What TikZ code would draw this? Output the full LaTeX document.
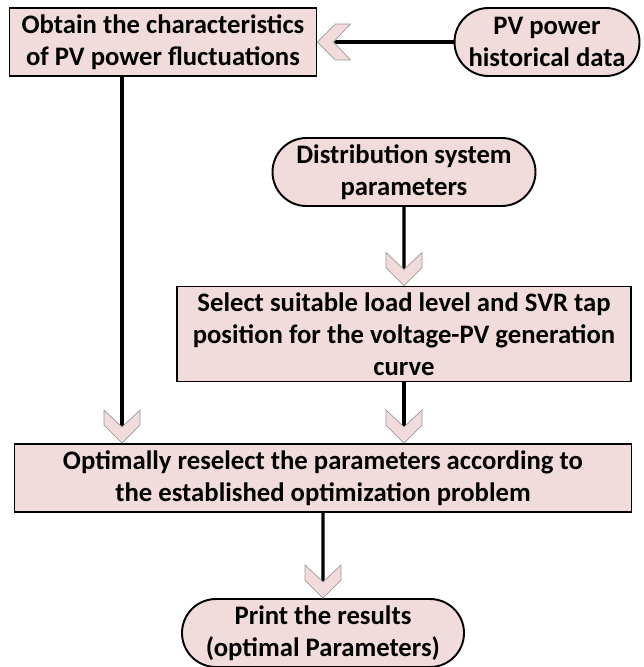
\documentclass[tikz,border=0pt]{standalone}
\usepackage{fontspec}
\setmainfont{Carlito}
\usetikzlibrary{shapes.misc}
\definecolor{boxpink}{HTML}{F2DCDB}
\definecolor{chevgray}{HTML}{9A9A9A}
\tikzstyle{arrow} = [line width=1.9pt, shorten >=0.3cm]
\tikzstyle{box} = [draw, line width=1.1pt, fill=boxpink, align=center, inner sep=0pt, minimum height=1.36cm, font=\fontsize{15.2}{18.2}\selectfont\bfseries]
\tikzstyle{term} = [box, rounded rectangle]
\tikzset{chevron/.pic={
    \filldraw [fill=boxpink, draw=chevgray, line width=0.4pt]
      (0,0) -- (-0.36,0.36) -- (-0.66,0.36) -- (-0.32,0) -- (-0.66,-0.36) -- (-0.36,-0.36) -- cycle;
}}

\begin{document}
\begin{tikzpicture}
    \useasboundingbox (0,0) rectangle (12.88,-13.34);
    \node (obtain) [box, minimum width=6.14cm] at (3.26,-0.84) {Obtain the characteristics\\of PV power fluctuations};
    \node (hist)   [term, minimum width=3.7cm, node distance=7.68cm, right of=obtain] {PV power\\historical data};
    \node (optim)  [box, minimum width=12.34cm, node distance=8.72cm, below of=obtain, xshift=3.2cm] {Optimally reselect the parameters according to\\the established optimization problem};
    \node (select) [box, minimum width=9.08cm, minimum height=1.9cm, node distance=2.88cm, above of=optim, xshift=1.62cm] {Select suitable load level and SVR tap\\position for the voltage-PV generation\\curve};
    \node (dist)   [term, minimum width=5.26cm, node distance=3.24cm, above of=select] {Distribution system\\parameters};
    \node (print)  [term, minimum width=5.64cm, node distance=3.1cm, below of=optim] {Print the results\\(optimal Parameters)};
    \draw [arrow] (hist) -- (obtain) pic[pos=1, sloped, allow upside down] {chevron};
    \draw [arrow] ([xshift=-0.82cm]obtain.south) -- ([xshift=-0.82cm]obtain.south |- optim.north) pic[pos=1, sloped, allow upside down] {chevron};
    \draw [arrow] (dist) -- (select) pic[pos=1, sloped, allow upside down] {chevron};
    \draw [arrow] (select) -- (select.south |- optim.north) pic[pos=1, sloped, allow upside down] {chevron};
    \draw [arrow] (optim) -- (print) pic[pos=1, sloped, allow upside down] {chevron};
\end{tikzpicture}
\end{document}
